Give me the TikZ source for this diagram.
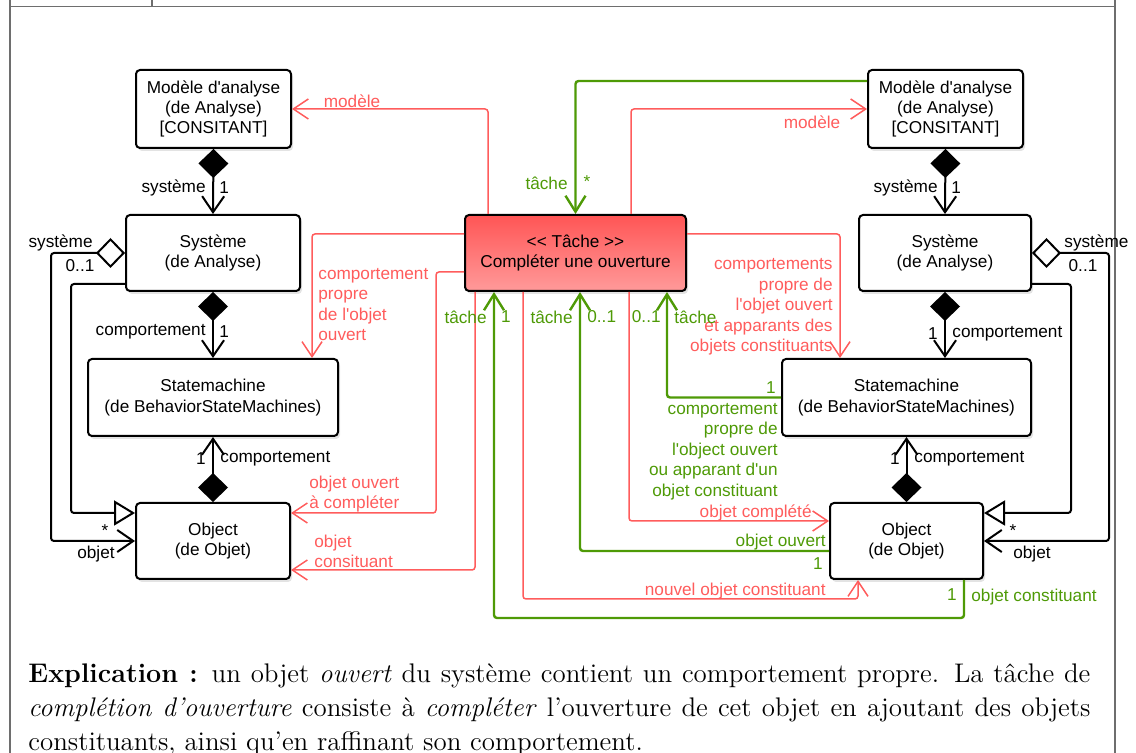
\documentclass[tikz,border=0pt]{standalone}
\usepackage{fontspec}
\usepackage{tikz}
\usetikzlibrary{arrows.meta, shadows}
\newfontfamily\diagfont{Liberation Sans}[Ligatures=TeXOff]
\definecolor{linkred}{HTML}{FF5C5C}
\definecolor{linkgreen}{HTML}{4E9A06}
\definecolor{tasktop}{HTML}{FF5555}
\definecolor{taskbottom}{HTML}{FF9A9A}
\definecolor{framegray}{HTML}{6E6E6E}

\begin{document}
\begin{tikzpicture}[x=0.5pt, y=-0.5pt,
        classbox/.style={
            draw,
            line width=1pt,
            rounded corners=2pt,
            fill=white,
            align=center,
            inner sep=0pt,
            font=\diagfont\fontsize{8.6}{10.2}\selectfont,
            drop shadow={shadow xshift=1pt, shadow yshift=-1.5pt, opacity=0.22}
        },
        taskbox/.style={classbox, top color=tasktop, bottom color=taskbottom},
        lbl/.style={font=\diagfont\fontsize{8.6}{10.2}\selectfont, inner sep=0pt},
        redlbl/.style={lbl, text=linkred},
        greenlbl/.style={lbl, text=linkgreen},
        link/.style={draw, line width=1pt, rounded corners=1.5pt},
        compo/.style={link, {Diamond[length=14.5pt, width=15pt]}-{Straight Barb[length=8pt, width=11pt]}},
        aggreg/.style={link, {Diamond[open, length=14.5pt, width=15pt]}-{Straight Barb[length=8pt, width=11pt]}},
        inherit/.style={link, -{Triangle[open, length=10.5pt, width=12.5pt]}},
        redlink/.style={draw=linkred, line width=0.75pt, rounded corners=1.5pt, -{Straight Barb[length=7.5pt, width=10pt]}},
        greenlink/.style={draw=linkgreen, line width=1.2pt, rounded corners=1.5pt, -{Straight Barb[length=8pt, width=10pt]}}
    ]
        \useasboundingbox (0,0) rectangle (1136,753);
        \draw[framegray, line width=0.7pt] (10,0) -- (10,753) (1115,0) -- (1115,753) (10,6.5) -- (1115,6.5) (152,0) -- (152,6.5);

        \node[classbox, minimum width=77.5pt, minimum height=39pt] (modL) at (213.5,109) {Modèle d'analyse\\(de Analyse)\\{[CONSITANT]}};
        \node[classbox, minimum width=87pt, minimum height=38pt] (sysL) at (213,253) {Système\\(de Analyse)};
        \node[classbox, minimum width=125pt, minimum height=38.5pt] (smL) at (213,397.5) {Statemachine\\(de BehaviorStateMachines)};
        \node[classbox, minimum width=77pt, minimum height=38pt] (objL) at (213,541) {Object\\(de Objet)};

        \node[taskbox, minimum width=110.5pt, minimum height=38pt] (tache) at (575.5,253) {<{}< Tâche >{}>\\Compléter une ouverture};

        \node[classbox, minimum width=77.5pt, minimum height=39pt] (modR) at (945.5,109) {Modèle d'analyse\\(de Analyse)\\{[CONSITANT]}};
        \node[classbox, minimum width=86pt, minimum height=38pt] (sysR) at (945,253) {Système\\(de Analyse)};
        \node[classbox, minimum width=124.5pt, minimum height=38.5pt] (smR) at (906.5,397.5) {Statemachine\\(de BehaviorStateMachines)};
        \node[classbox, minimum width=76.5pt, minimum height=38pt] (objR) at (906.5,541) {Object\\(de Objet)};

        \draw[compo] (modL.south) -- (sysL.north);
        \draw[compo] (sysL.south) -- (smL.north);
        \draw[compo] (objL.north) -- (smL.south);
        \draw[aggreg] (sysL.west) -- ++(-74,0) |- (objL.west);
        \draw[inherit] ([yshift=-15.5pt]sysL.west) -- ++(-54,0) |- ([yshift=14pt]objL.west);

        \draw[compo] (modR.south) -- (sysR.north);
        \draw[compo] (sysR.south) -- (sysR.south |- smR.north);
        \draw[compo] (objR.north) -- (smR.south);
        \draw[aggreg] (sysR.east) -- ++(77,0) |- (objR.east);
        \draw[inherit] ([yshift=-15.5pt]sysR.east) -- ++(39,0) |- ([yshift=14pt]objR.east);

        \node[lbl, anchor=east] (sysLa) at (206,188) {système};
        \node[lbl, anchor=west] (sysLb) at (219,188) {1};
        \node[lbl, anchor=east] (cmpLa) at (206,332) {comportement};
        \node[lbl, anchor=west] (cmpLb) at (219,332) {1};
        \node[lbl, anchor=east] (cmpLc) at (206,459) {1};
        \node[lbl, anchor=west] (cmpLd) at (220,459) {comportement};
        \node[lbl, anchor=east] (aggLa) at (93,243) {système};
        \node[lbl] (aggLb) at (80,266) {0..1};
        \node[lbl] (aggLc) at (105,531) {*};
        \node[lbl] (aggLd) at (96,554) {objet};

        \node[lbl, anchor=east] (sysRa) at (938,188) {système};
        \node[lbl, anchor=west] (sysRb) at (951,188) {1};
        \node[lbl, anchor=east] (cmpRa) at (938,334) {1};
        \node[lbl, anchor=west] (cmpRb) at (952,334) {comportement};
        \node[lbl, anchor=east] (cmpRc) at (900,459) {1};
        \node[lbl, anchor=west] (cmpRd) at (914,459) {comportement};
        \node[lbl, anchor=west] (aggRa) at (1064,243) {système};
        \node[lbl] (aggRb) at (1083,266) {0..1};
        \node[lbl] (aggRc) at (1013,531) {*};
        \node[lbl] (aggRd) at (1032,554) {objet};

        \draw[redlink] ([xshift=-43.75pt]tache.north) |- (modL.east);
        \draw[redlink] ([yshift=9.5pt]tache.west) -| ([xshift=49.5pt]smL.north);
        \coordinate (ouvL) at (436,513);
        \draw[redlink] ([yshift=-9.5pt]tache.west) -| (ouvL) -- ([yshift=14pt]objL.east);
        \draw[redlink] ([xshift=-50.25pt]tache.south) |- ([yshift=-14.5pt]objL.east);
        \draw[redlink] ([xshift=27.75pt]tache.north) |- (modR.west);
        \draw[redlink] ([yshift=9.5pt]tache.east) -| ([xshift=-33.25pt]smR.north);
        \draw[redlink] ([xshift=26.75pt]tache.south) |- ([yshift=10pt]objR.west);
        \coordinate (nouv) at (858,599);
        \draw[redlink] ([xshift=-26.25pt]tache.south) |- (nouv) -- ([xshift=-24.25pt]objR.south);

        \node[redlbl] (modLa) at (352,101) {modèle};
        \node[redlbl, anchor=west, align=left] (proLa) at (318,304.5) {comportement\\propre\\de l'objet\\ouvert};
        \node[redlbl, anchor=west, align=left] (ouvLa) at (309,494) {objet ouvert\\à compléter};
        \node[redlbl, anchor=west, align=left] (cstLa) at (314,551.5) {objet\\consituant};
        \node[redlbl] (modRa) at (812,122) {modèle};
        \node[redlbl, anchor=east, align=right] (proRa) at (833,307) {comportements\\propre de\\l'objet ouvert\\et apparants des\\objets constituants};
        \node[redlbl, anchor=east] (cplRa) at (812,513) {objet complété};
        \node[redlbl, anchor=east] (nouRa) at (826,591) {nouvel objet constituant};

        \draw[greenlink] ([yshift=14pt]modR.west) -| (tache.north);
        \draw[greenlink] ([yshift=-5pt]objR.west) -| ([xshift=2.25pt]tache.south);
        \draw[greenlink] (smR.west) -| ([xshift=45.75pt]tache.south);
        \coordinate (cstR) at (494,618);
        \draw[greenlink] ([xshift=28.75pt]objR.south) |- (cstR) -- ([xshift=-40.75pt]tache.south);

        \node[greenlbl, anchor=east] (tchA) at (568,183) {tâche};
        \node[greenlbl] (tchB) at (587,182) {*};
        \node[greenlbl, anchor=east] (tchC) at (487,317) {tâche};
        \node[greenlbl] (tchD) at (506,317) {1};
        \node[greenlbl, anchor=east] (tchE) at (573,317) {tâche};
        \node[greenlbl, anchor=west] (tchF) at (587,317) {0..1};
        \node[greenlbl, anchor=east] (tchG) at (661,317) {0..1};
        \node[greenlbl, anchor=west] (tchH) at (674,317) {tâche};
        \node[greenlbl] (smRa) at (771,388) {1};
        \node[greenlbl, anchor=east, align=right] (smRb) at (778,451.5) {comportement\\propre de\\l'object ouvert\\ou apparant d'un\\objet constituant};
        \node[greenlbl, anchor=east] (ouvRa) at (826,542) {objet ouvert};
        \node[greenlbl] (ouvRb) at (818,564) {1};
        \node[greenlbl] (cstRa) at (952,595) {1};
        \node[greenlbl, anchor=west] (cstRb) at (971,597) {objet constituant};

        \node[anchor=north west, text width=531pt, align=justify, inner sep=0pt, font=\fontsize{13.45}{17}\selectfont] (expl) at (28,663) {\textbf{Explication :} un objet \textit{ouvert} du système contient un comportement propre. La tâche de\linebreak \textit{complétion d'ouverture} consiste à \textit{compléter} l'ouverture de cet objet en ajoutant des objets\linebreak constituants, ainsi qu'en raffinant son comportement.};
    \end{tikzpicture}
\end{document}
